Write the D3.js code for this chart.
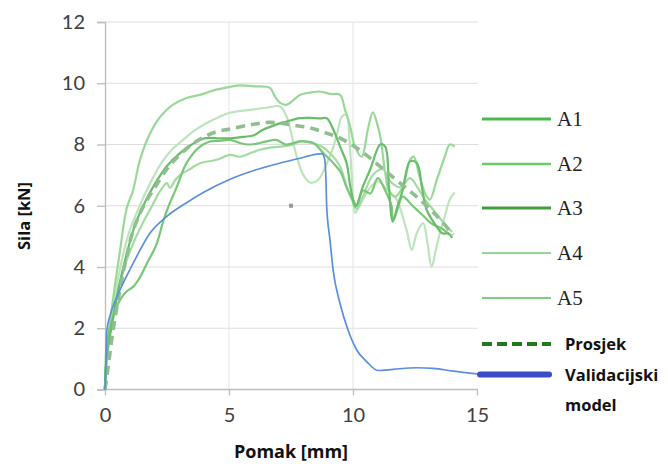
<!DOCTYPE html>
<html><head><meta charset="utf-8">
<script src="https://cdn.jsdelivr.net/npm/d3@7"></script>
<style>body{margin:0;background:#fff}</style>
</head><body><svg id="c" width="668" height="466"></svg>
<script>
const xTicks=[0,5,10,15];
const yTicks=[0,2,4,6,8,10,12];
const seriesNames=["A1","A2","A3","A4","A5"];
const a1=[[0,0],[0.03,0.8],[0.07,1.5],[0.33,2.4],[0.6,2.92],[0.87,3.2],[1.14,3.36],[1.4,3.65],[1.68,4.1],[2.08,4.75],[2.35,5.5],[2.62,6.1],[2.89,6.6],[3.29,7.4],[3.83,7.93],[4.23,8.1],[4.64,8.12],[5.04,8.15],[5.44,8.05],[5.85,8.0],[6.25,8.05],[6.9,8.15],[7.3,8.0],[7.86,8.1],[8.4,8.05],[8.8,7.72],[9.2,7.4],[9.5,7.1],[9.74,6.6],[10.0,6.2],[10.15,6.0],[10.4,6.5],[10.7,6.4],[11.0,6.9],[11.3,6.5],[11.56,5.97],[11.6,5.48],[11.8,5.9],[12.0,6.3],[12.4,6.0],[12.8,5.7],[13.2,5.4],[13.6,5.25],[13.9,5.05]];
const a2=[[0,0],[0.05,0.8],[0.12,1.6],[0.3,2.8],[0.6,4.5],[0.87,5.9],[1.13,6.5],[1.41,7.5],[1.81,8.35],[2.22,8.9],[2.74,9.3],[3.29,9.52],[3.83,9.62],[4.35,9.76],[5.04,9.88],[5.44,9.93],[6.0,9.9],[6.65,9.85],[6.85,9.57],[7.06,9.36],[7.33,9.3],[7.6,9.45],[7.86,9.62],[8.3,9.7],[8.67,9.73],[9.1,9.65],[9.48,9.62],[9.68,9.13],[9.88,8.6],[10.08,7.93],[10.35,7.6],[10.6,8.5],[10.8,9.05],[11.0,8.6],[11.1,8.26],[11.3,7.07],[11.45,6.5],[11.7,6.3],[12.0,6.6],[12.3,7.5],[12.45,7.6],[12.7,6.9],[12.97,6.3],[13.1,6.2],[13.4,6.9],[13.7,7.6],[13.9,8.0],[14.1,7.93]];
const a3=[[0,0],[0.06,1.0],[0.3,2.2],[0.6,3.5],[0.9,4.5],[1.2,5.35],[1.6,6.1],[2.0,6.7],[2.5,7.3],[3.0,7.7],[3.5,8.0],[4.0,8.2],[4.64,8.2],[5.04,8.2],[5.6,8.25],[6.0,8.3],[6.37,8.48],[6.9,8.65],[7.33,8.75],[7.86,8.86],[8.27,8.87],[8.67,8.85],[8.94,8.86],[9.2,8.5],[9.48,7.93],[9.74,7.4],[9.9,6.6],[10.1,5.97],[10.4,6.63],[10.7,7.2],[11.1,8.0],[11.3,7.93],[11.45,6.6],[11.6,5.5],[11.8,6.0],[12.0,6.5],[12.3,7.45],[12.57,7.4],[12.8,6.5],[12.97,5.87],[13.37,5.32],[13.6,5.1],[13.85,5.1],[14.0,4.95]];
const a4=[[0,0],[0.05,0.7],[0.15,1.5],[0.4,3.0],[0.7,4.3],[1.0,5.2],[1.4,6.0],[1.8,6.7],[2.2,7.3],[2.6,7.75],[3.0,8.05],[3.3,8.26],[3.6,8.45],[4.1,8.7],[4.6,8.9],[5.0,9.03],[5.85,9.13],[6.5,9.2],[7.06,9.24],[7.33,8.9],[7.5,8.4],[7.7,7.7],[8.0,7.0],[8.3,6.75],[8.6,6.85],[8.9,7.3],[9.2,7.9],[9.4,8.5],[9.54,8.9],[9.74,8.97],[9.85,8.2],[9.95,7.0],[10.08,5.77],[10.2,5.9],[10.4,6.2],[10.7,6.6],[11.0,6.8],[11.4,6.5],[11.76,6.2],[12.16,5.2],[12.37,4.56],[12.57,5.1],[12.83,5.43],[13.0,4.8],[13.17,4.0],[13.35,4.6],[13.5,5.1],[13.7,5.65],[13.9,6.2],[14.1,6.43]];
const a5=[[0,0],[0.05,0.9],[0.2,2.0],[0.45,3.0],[0.75,3.9],[1.1,4.7],[1.5,5.4],[1.9,6.0],[2.2,6.45],[2.49,6.74],[2.62,6.58],[2.8,6.8],[3.02,7.0],[3.43,7.2],[3.83,7.39],[4.5,7.5],[5.04,7.66],[5.44,7.6],[5.8,7.7],[6.25,7.83],[6.65,7.9],[7.06,7.93],[7.6,8.0],[7.9,8.12],[8.3,8.05],[8.7,7.95],[9.1,7.7],[9.48,7.28],[9.74,6.63],[9.95,6.2],[10.15,5.9],[10.4,6.3],[10.8,7.0],[11.2,7.2],[11.5,6.8],[11.9,6.6],[12.3,6.9],[12.6,6.6],[12.9,6.2],[13.2,5.9],[13.5,5.6],[13.8,5.3],[14.0,5.15]];
const prosjek=[[0,0],[0.07,0.4],[0.33,1.95],[0.6,3.25],[0.87,4.35],[1.14,5.2],[1.54,5.97],[1.95,6.52],[2.5,7.2],[3.0,7.65],[3.5,8.0],[4.0,8.25],[4.5,8.42],[5.0,8.5],[5.85,8.64],[6.5,8.72],[7.06,8.7],[7.6,8.63],[8.27,8.54],[8.9,8.38],[9.5,8.2],[10.3,7.8],[11.1,7.28],[11.9,6.74],[12.7,6.2],[13.4,5.65],[14.04,5.05]];
const model=[[0,0],[0.02,0.4],[0.07,1.9],[0.2,2.4],[0.47,3.0],[0.87,3.7],[1.28,4.35],[1.81,5.1],[2.49,5.65],[3.29,6.1],[4.0,6.45],[5.0,6.85],[6.0,7.15],[7.0,7.38],[7.86,7.55],[8.5,7.68],[8.74,7.7],[8.85,7.55],[8.9,7.07],[8.94,5.97],[9.07,4.9],[9.2,3.9],[9.48,2.8],[9.8,1.94],[10.15,1.29],[10.55,0.91],[11.02,0.62],[11.63,0.66],[12.57,0.71],[13.24,0.69],[14.04,0.6],[15,0.51]];

const svg=d3.select("#c");
const x=d3.scaleLinear().domain([0,15]).range([105,477]);
const y=d3.scaleLinear().domain([0,12]).range([389.5,22]);

// gridlines
svg.append("g").selectAll("line").data(yTicks.filter(d=>d>0)).join("line")
  .attr("x1",x(0)).attr("x2",478).attr("y1",d=>y(d)).attr("y2",d=>y(d))
  .attr("stroke","#dedede").attr("stroke-width",1);
svg.append("g").selectAll("line").data([5,10]).join("line")
  .attr("x1",d=>x(d)).attr("x2",d=>x(d)).attr("y1",y(12)).attr("y2",y(0))
  .attr("stroke","#e4e4e4").attr("stroke-width",1);

// axes
const yAxis=svg.append("g").attr("transform",`translate(${x(0)},0)`)
  .call(d3.axisLeft(y).tickValues(yTicks).tickSize(8).tickPadding(12).tickFormat(d3.format("d")));
const xAxis=svg.append("g").attr("transform",`translate(0,${y(0)})`)
  .call(d3.axisBottom(x).tickValues(xTicks).tickSize(6).tickPadding(12).tickFormat(d3.format("d")));
[yAxis,xAxis].forEach(g=>{
  g.select(".domain").attr("stroke","#bdbdbd").attr("stroke-width",1.3);
  g.selectAll(".tick line").attr("stroke","#bdbdbd").attr("stroke-width",1.3);
  g.selectAll(".tick text").attr("fill","#404040").style("font-family","Lato, 'Open Sans', sans-serif").style("font-size","20px");
});
xAxis.select(".domain").attr("d",`M${x(0)},0H478`);

// small marker artifact
svg.append("rect").attr("x",x(7.5)-2).attr("y",y(6)-2).attr("width",4).attr("height",4).attr("fill","#999");

const line=d3.line().x(d=>x(d[0])).y(d=>y(d[1])).curve(d3.curveCatmullRom.alpha(0.5));
const chartColors=["#78c878","#98d998","#6abd6a","#bde5bd","#a2dca2"];
const legendColors=["#4cb84c","#6acb6a","#3f9f3f","#98d598","#82cd82"];
const legendWidths=[3,2.6,3,2,2];
const data=[a4,a2,a5,a1,a3];
const dataColors=[chartColors[3],chartColors[1],chartColors[4],chartColors[0],chartColors[2]];
data.forEach((d,i)=>{
  svg.append("path").datum(d).attr("d",line).attr("fill","none")
    .attr("stroke",dataColors[i]).attr("stroke-width",2.2).attr("stroke-linejoin","round");
});
svg.append("path").datum(prosjek).attr("d",line).attr("fill","none")
  .attr("stroke","#8fbe8f").attr("stroke-width",3.6).attr("stroke-dasharray","9,6");
svg.append("path").datum(model).attr("d",d3.line().x(d=>x(d[0])).y(d=>y(d[1])).curve(d3.curveMonotoneX)).attr("fill","none")
  .attr("stroke","#5b8fdc").attr("stroke-width",1.7);

// axis titles
const sans="'Open Sans', sans-serif";
svg.append("text").attr("x",291).attr("y",458).attr("text-anchor","middle")
  .style("font-family",sans).style("font-weight","bold").style("font-size","18px").attr("fill","#111").text("Pomak [mm]");
svg.append("text").attr("transform","translate(30,216) rotate(-90)").attr("text-anchor","middle")
  .style("font-family",sans).style("font-weight","bold").style("font-size","16.5px").attr("fill","#111").text("Sila [kN]");

// legend
const legY=[119,164,208,253,298];
seriesNames.forEach((n,i)=>{
  svg.append("line").attr("x1",482).attr("x2",551).attr("y1",legY[i]).attr("y2",legY[i])
    .attr("stroke",legendColors[i]).attr("stroke-width",legendWidths[i]);
  svg.append("text").attr("x",557).attr("y",legY[i]+7).text(n)
    .style("font-family","'Liberation Serif', serif").style("font-size","21px").attr("fill","#222");
});
svg.append("line").attr("x1",482).attr("x2",551).attr("y1",344).attr("y2",344)
  .attr("stroke","#1f7a1f").attr("stroke-width",4).attr("stroke-dasharray","10,5");
svg.append("text").attr("x",565).attr("y",350).text("Prosjek")
  .style("font-family",sans).style("font-weight","bold").style("font-size","16.5px").attr("fill","#111");
svg.append("line").attr("x1",480).attr("x2",549).attr("y1",374.5).attr("y2",374.5)
  .attr("stroke","#3a4cc4").attr("stroke-width",6).attr("stroke-linecap","round");
svg.append("text").attr("x",565).attr("y",381).text("Validacijski")
  .style("font-family",sans).style("font-weight","bold").style("font-size","16.5px").attr("fill","#111");
svg.append("text").attr("x",565).attr("y",411).text("model")
  .style("font-family",sans).style("font-weight","bold").style("font-size","16.5px").attr("fill","#111");
</script></body></html>
